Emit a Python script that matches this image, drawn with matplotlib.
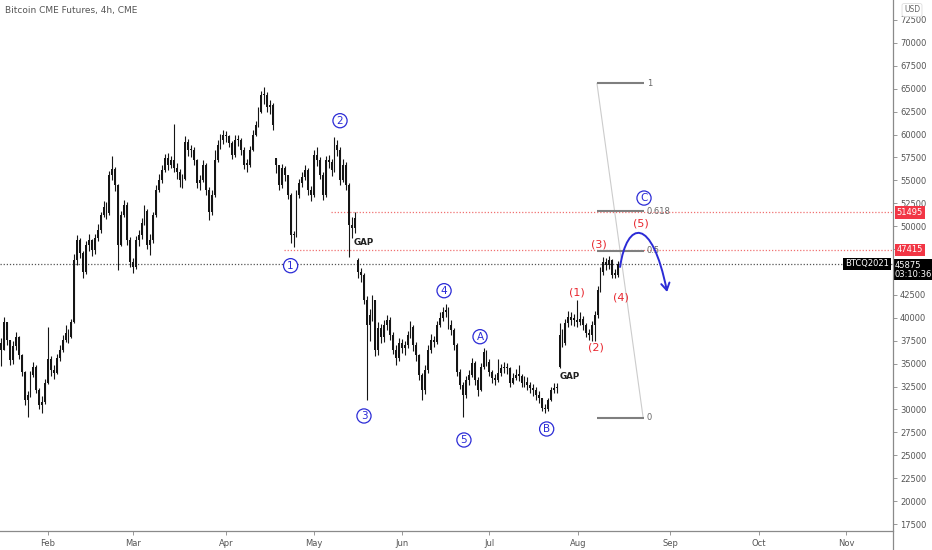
import matplotlib
matplotlib.use("Agg")
import matplotlib.pyplot as plt
from matplotlib.patches import FancyArrowPatch
from matplotlib.path import Path
from matplotlib.lines import Line2D
import numpy as np

plt.rcParams['font.family'] = ['DejaVu Sans']

# ---------------- data (daily summary of the 4h candles) ----------------
first_day = 15          # day-of-year of first candle (Jan 15)
first_open = 37200
closes = [
    36500, 39500, 37600, 35400, 36900, 37900, 35900, 34100, 31000, 31600,
    33800, 34600, 32100, 30500, 30800, 32900, 35500, 34300, 34000, 35600,
    36500, 37600, 38300, 37900, 39500, 46300, 48500, 47100, 45000, 48000,
    48500, 47400, 48700, 49600, 51200, 52100, 51400, 55600, 56200, 54500,
    48000, 51200, 52300, 48500, 46100, 45500, 48500, 49000, 50400, 51700,
    47900, 48500, 51200, 54000, 55000, 56100, 57400, 56700, 57200, 56400,
    55900, 55000, 55200, 59200, 58300, 58300, 57200, 54700, 55000, 56700,
    54000, 51600, 53400, 57200, 58900, 59400, 60000, 59800, 59100, 57800,
    59400, 59400, 58300, 56700, 56700, 58300, 60000, 61000, 62500, 64300,
    64300, 63000, 63200, 61000, 56700, 54500, 56300, 55600, 53400, 49000,
    49000, 53400, 54700, 55400, 56100, 53900, 53400, 57800, 57200, 55600,
    53400, 57200, 57000, 56100, 58900, 58300, 55000, 56700, 54500, 50100,
    49800, 50900, 45000, 44700, 41900, 39200, 40300, 41900, 36500, 38900,
    37900, 39200, 39800, 38100, 36500, 35600, 37300, 36700, 37000, 38100,
    39000, 37000, 35900, 33800, 32100, 34300, 36500, 37600, 37400, 39200,
    40000, 40600, 40900, 39200, 38700, 37000, 34100, 32700, 31600, 33200,
    33800, 35100, 33200, 32100, 34600, 36300, 35200, 34100, 33400, 33200,
    34000, 34500, 34600, 34500, 32900, 33400, 33800, 33700, 32900, 33000,
    32700, 32300, 32100, 31600, 31200, 30200, 30000, 31000, 32100, 32300,
    32300, 38100, 37300, 39400, 40100, 39800, 39800, 39500, 39900, 39200,
    38300, 38100, 39200, 40300, 43000, 45000, 46100, 45800, 46300, 44700,
    44700, 45875,
]
highs = [
    37800, 40100, 39500, 37600, 37500, 38400, 38000, 36000, 34200, 32000,
    34200, 35200, 34800, 32300, 31500, 33300, 39000, 35800, 34800, 36000,
    37000, 38100, 39200, 38800, 39900, 47000, 49000, 48700, 47300, 48400,
    49200, 48600, 49100, 50200, 51600, 52700, 52600, 56000, 57700, 56500,
    54600, 51700, 52900, 52600, 48800, 46500, 48900, 49600, 50900, 52300,
    51900, 49100, 51600, 54500, 55700, 56700, 57900, 58000, 57700, 61100,
    56900, 56200, 55700, 59800, 59500, 58900, 58600, 57300, 55600, 57200,
    56900, 54300, 53900, 58300, 59400, 60100, 60500, 60400, 60000, 59300,
    59900, 60000, 59600, 58600, 57300, 58800, 60500, 61500, 63000, 64800,
    65200, 64600, 63800, 63400, 57400, 56500, 56800, 56600, 55500, 53600,
    49500, 53900, 55200, 55900, 56700, 56300, 54400, 58300, 58600, 57500,
    55900, 57700, 57800, 57300, 59700, 59400, 58600, 57300, 57000, 54700,
    51000, 51500, 46500, 45400, 44900, 42400, 41000, 42500, 42000, 39500,
    39300, 39800, 40300, 40100, 38400, 37000, 37800, 37700, 37500, 38600,
    39600, 39200, 37400, 36100, 34000, 34800, 37000, 38200, 38000, 39700,
    40600, 41200, 41500, 41200, 39800, 38900, 37300, 34400, 33000, 33700,
    34300, 35600, 35300, 33500, 35100, 36700, 36500, 35500, 34300, 33900,
    35500, 35000, 35200, 35100, 34600, 34000, 34400, 34900, 33900, 33600,
    33500, 33000, 32800, 32400, 32000, 31300, 30600, 31300, 32500, 32900,
    32900, 39400, 38800, 39900, 40700, 40600, 40400, 41900, 40600, 40200,
    39400, 38800, 39600, 40800, 43500, 45500, 46600, 46500, 46700, 46400,
    45300, 46200,
]
lows = [
    34700, 36500, 37000, 34900, 35000, 36500, 35500, 33700, 30500, 29200,
    31400, 33500, 31800, 30000, 29600, 30600, 32800, 33600, 33300, 33900,
    35300, 36300, 37400, 37300, 37800, 39400, 45800, 46500, 44300, 44800,
    47300, 46800, 47000, 48400, 49300, 51000, 50800, 51200, 55000, 53800,
    45200, 47800, 51000, 48000, 45600, 44900, 45300, 47800, 48600, 50100,
    47500, 46900, 48200, 51000, 53700, 54700, 55900, 56100, 56300, 55900,
    55200, 54300, 54200, 55000, 57700, 57500, 56700, 54200, 54000, 54800,
    53400, 50700, 51200, 53200, 57000, 58400, 59000, 59200, 58600, 57300,
    57600, 58800, 57800, 56200, 55900, 56500, 58200, 59800, 60800, 62300,
    63300, 62500, 62200, 60500, 55800, 53900, 54200, 54900, 53000, 48200,
    47700, 48800, 53100, 54300, 55000, 53400, 52700, 53200, 56600, 55100,
    52900, 53200, 56400, 55500, 55900, 57700, 54500, 54800, 54000, 46600,
    48700, 49300, 44300, 43900, 41500, 31000, 37500, 39700, 35800, 35900,
    37300, 37400, 38700, 37600, 36000, 34900, 35300, 36200, 35900, 36700,
    37800, 36400, 35300, 33200, 31000, 31700, 34000, 36200, 36800, 37100,
    39000, 39700, 40100, 38800, 38100, 36500, 33600, 32200, 29200, 31300,
    32700, 33500, 32700, 31500, 32000, 34400, 34700, 33600, 32900, 32700,
    33000, 33700, 34000, 33900, 32400, 32800, 33200, 33100, 32400, 32400,
    32100, 31800, 31500, 31000, 30700, 29800, 29600, 29800, 30900, 31800,
    31800, 34500, 36800, 37000, 39000, 39200, 39100, 39000, 39200, 38700,
    37900, 37600, 37500, 37500, 40000, 42800, 44700, 45200, 45300, 44300,
    44300, 44500,
]
gap_days = [109, 137, 206]
gap_opens = [57400, 46300, 34600]

month_labels = ['Feb', 'Mar', 'Apr', 'May', 'Jun', 'Jul', 'Aug', 'Sep', 'Oct', 'Nov']
month_pos = [31.0, 60.1, 91.9, 122.0, 152.1, 181.9, 212.3, 243.8, 274.2, 304.0]
price_ticks = list(range(17500, 72501, 2500))
hidden_tick_labels = [45000, 47500]   # covered by the price tags in the reference

last_price = 45875
level_a = 51495
level_b = 47415
fib_low = 29110
fib_high = 65580
fib_ratios = [0, 0.5, 0.618, 1]
fib_texts = ['0', '0.5', '0.618', '1']

wave_labels = ['1', '2', '3', '4', '5', 'A', 'B', 'C']
wave_x = [114.0, 130.9, 139.1, 166.5, 173.3, 178.8, 201.6, 234.9]
wave_y = [45690, 61510, 29290, 42960, 26670, 37940, 27870, 53070]
sub_labels = ['(1)', '(2)', '(3)', '(4)', '(5)']
sub_x = [212.0, 218.5, 219.5, 227.0, 233.9]
sub_y = [42710, 36710, 47950, 42270, 50240]

# ---------------- figure ----------------
W, H = 932, 550
fig = plt.figure(figsize=(W / 100, H / 100), dpi=100)
fig.patch.set_facecolor('white')
ax = fig.add_axes([0, 19 / H, 893 / W, 531 / H])
ax.set_xlim(14.58, 320.08)
ax.set_ylim(16739, 74682)
for s in ['top', 'left', 'right', 'bottom']:
    ax.spines[s].set_visible(False)

# axis lines (TradingView style)
fig.add_artist(Line2D([893 / W, 893 / W], [0, 1], transform=fig.transFigure, color='#8a8a8a', lw=0.9))
fig.add_artist(Line2D([0, 893 / W], [19 / H, 19 / H], transform=fig.transFigure, color='#8a8a8a', lw=0.9))

ax.yaxis.tick_right()
ax.set_yticks(price_ticks)
ax.set_yticklabels(['' if p in hidden_tick_labels else str(p) for p in price_ticks])
ax.tick_params(axis='y', direction='out', length=3, width=0.6, color='#888', labelsize=6, labelcolor='#555', pad=2)
ax.set_xticks(month_pos)
ax.set_xticklabels(month_labels)
ax.tick_params(axis='x', direction='out', length=3, width=0.6, color='#888', labelsize=6, labelcolor='#555', pad=3)

# ---------------- candles ----------------
n = len(closes)
days = np.arange(first_day, first_day + n)
opens = [first_open] + closes[:-1]
for gd, go in zip(gap_days, gap_opens):
    opens[gd - first_day] = go
opens = np.array(opens, float)
cl = np.array(closes, float)
ax.vlines(days, lows, highs, color='#151515', lw=0.8, zorder=3)
body_lo = np.minimum(opens, cl)
body_h = np.maximum(np.abs(cl - opens), 150)
ax.bar(days, body_h, bottom=body_lo, width=0.65, color='#151515', lw=0, zorder=3)

# ---------------- horizontal levels ----------------
ax.hlines(level_a, 127.7, 320.08, colors='#f07070', linestyles=(0, (1, 1.5)), lw=0.9, zorder=2)
ax.hlines(level_b, 111.7, 320.08, colors='#f07070', linestyles=(0, (1, 1.5)), lw=0.9, zorder=2)
ax.hlines(last_price, 14.58, 320.08, colors='#555555', linestyles=(0, (1, 1.5)), lw=0.9, zorder=2)

ytr = ax.get_yaxis_transform()
for val, fc in [(level_a, '#f23645'), (level_b, '#f23645')]:
    ax.text(1.004, val, str(val), transform=ytr, ha='left', va='center', fontsize=6, color='white',
            bbox=dict(boxstyle='square,pad=0.22', fc=fc, ec='none'), clip_on=False, zorder=10)
ax.text(1.002, 45240, f'{last_price}\n03:10:36', transform=ytr, ha='left', va='center', fontsize=6,
        color='white', linespacing=1.05,
        bbox=dict(boxstyle='square,pad=0.18', fc='black', ec='none'), clip_on=False, zorder=10)
ax.text(0.9955, last_price, 'BTCQ2021', transform=ytr, ha='right', va='center', fontsize=6, color='white',
        bbox=dict(boxstyle='square,pad=0.22', fc='black', ec='none'), clip_on=False, zorder=10)

fig.text(912 / W, 1 - 10 / H, 'USD', fontsize=5.5, color='#666', ha='center', va='center',
         bbox=dict(boxstyle='round,pad=0.25', fc='white', ec='#dddddd', lw=0.6))
fig.text(5 / W, 1 - 11 / H, 'Bitcoin CME Futures, 4h, CME', fontsize=6.5, color='#555', ha='left', va='center')

# ---------------- fibonacci ----------------
fib_vals = [fib_low + r * (fib_high - fib_low) for r in fib_ratios]
ax.plot([218.8, 234.6], [fib_high, fib_low], color='#cccccc', lw=0.8, zorder=2)
for v, t in zip(fib_vals, fib_texts):
    ax.hlines(v, 218.8, 234.9, colors='#7f7f7f', lw=1.5, zorder=4)
    ax.text(235.8, v, t, fontsize=6, color='#666', ha='left', va='center', zorder=5)

# ---------------- wave labels ----------------
blue = '#2b2bd6'
for t, x, y in zip(wave_labels, wave_x, wave_y):
    ax.text(x, y, t, fontsize=7.5, color=blue, ha='center', va='center', zorder=6,
            bbox=dict(boxstyle='circle,pad=0.2', fc='white', ec=blue, lw=0.9))
red = '#e8262e'
for t, x, y in zip(sub_labels, sub_x, sub_y):
    ax.text(x, y, t, fontsize=8, color=red, ha='center', va='center', zorder=6)

ax.text(138.9, 48170, 'GAP', fontsize=6.3, color='#222', fontweight='bold', ha='center', va='center', zorder=6)
ax.text(209.5, 33580, 'GAP', fontsize=6.3, color='#222', fontweight='bold', ha='center', va='center', zorder=6)

# ---------------- projection arrow ----------------
verts = [(226.7, 45550), (229.1, 50676), (237.6, 51112), (242.8, 42820)]
codes = [Path.MOVETO, Path.CURVE4, Path.CURVE4, Path.CURVE4]
arr = FancyArrowPatch(path=Path(verts, codes), arrowstyle='->,head_length=5,head_width=3',
                      color=blue, lw=1.4, mutation_scale=1, zorder=7)
ax.add_patch(arr)

fig.savefig('out.png', dpi=100)
